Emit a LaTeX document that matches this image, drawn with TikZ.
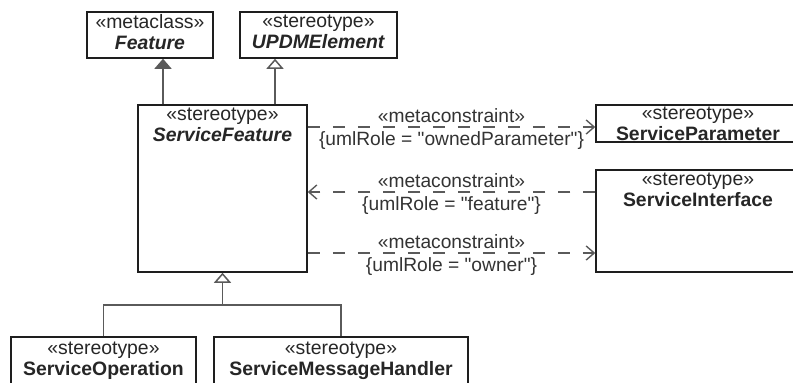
\documentclass[tikz,border=0pt]{standalone}
\usepackage{fontspec}
\setmainfont{Liberation Sans}
\newfontfamily\plainsans{Liberation Sans}
\usetikzlibrary{arrows.meta,positioning}
\definecolor{boxline}{HTML}{1E1E1E}
\definecolor{connline}{HTML}{5A5A5A}

\tikzset{
  box/.style={draw=boxline, line width=0.75pt, rectangle, inner sep=0pt},
  hdr/.style={align=center, inner sep=1pt, font=\fontsize{9.7}{10.5}\selectfont, text=black!85},
  lbl/.style={font=\plainsans\fontsize{9.6}{10}\selectfont, text=black!80, inner sep=2pt},
  dep/.style={connline, line width=0.7pt, dash pattern=on 6pt off 6.5pt,
    -{Straight Barb[length=4pt,width=7pt]}},
  ext/.style={connline, line width=0.75pt, -{Triangle[length=5pt,width=8.5pt,fill=connline]}},
  gen/.style={connline, line width=0.75pt, -{Triangle[open,length=5pt,width=8.5pt,fill=white]}},
}

\begin{document}
\begin{tikzpicture}[x=0.5pt,y=-0.5pt]
    \useasboundingbox (0,0) rectangle (793,382);
    \clip (0,0) rectangle (793,382);

    % metaclass and parent stereotype
    \node[box, minimum width=63pt, minimum height=23pt] (feat) at (150,35) {};
    \node[hdr, below=0.5pt of feat.north] (feat-h) {«metaclass»\\\textbf{\textit{Feature}}};
    \node[box, minimum width=78.5pt, minimum height=23pt] (updm) at (318.5,35) {};
    \node[hdr, below=0.5pt of updm.north] (updm-h) {«stereotype»\\\textbf{\textit{UPDMElement}}};

    % central stereotype
    \node[box, minimum width=84.5pt, minimum height=83.5pt] (sfeat) at (222.5,188.5) {};
    \node[hdr, below=0.5pt of sfeat.north] (sfeat-h) {«stereotype»\\\textbf{\textit{ServiceFeature}}};

    % right hand stereotypes (cut at the edge)
    \node[box, minimum width=102pt, minimum height=18.5pt] (spar) at (698,123.5) {};
    \node[hdr, below=0pt of spar.north] (spar-h) {«stereotype»\\\textbf{ServiceParameter}};
    \node[box, minimum width=102pt, minimum height=51pt] (sint) at (698,221) {};
    \node[hdr, below=0.5pt of sint.north] (sint-h) {«stereotype»\\\textbf{ServiceInterface}};

    % specialisations (cut at the bottom)
    \node[box, minimum width=92.5pt, minimum height=31.5pt] (sop) at (103.5,368.5) {};
    \node[hdr, below=1.5pt of sop.north] (sop-h) {«stereotype»\\\textbf{ServiceOperation}};
    \node[box, minimum width=127pt, minimum height=31.5pt] (smh) at (341,368.5) {};
    \node[hdr, below=1.5pt of smh.north] (smh-h) {«stereotype»\\\textbf{ServiceMessageHandler}};

    % extension and generalisation upwards
    \coordinate (ft) at ([xshift=-29.75pt]sfeat.north);
    \coordinate (ut) at ([xshift=26.25pt]sfeat.north);
    \draw[ext] (ft) -- (ft |- feat.south);
    \draw[gen] (ut) -- (ut |- updm.south);

    % metaconstraints
    \coordinate (r1) at (450,127);
    \coordinate (r2) at (450,192);
    \coordinate (r3) at (450,253);
    \draw[dep] (sfeat.east |- r1) -- node[lbl,above] {«metaconstraint»}
        node[lbl,below] {\{umlRole = "ownedParameter"\}} (spar.west |- r1);
    \draw[dep] (sint.west |- r2) -- node[lbl,above] {«metaconstraint»}
        node[lbl,below] {\{umlRole = "feature"\}} (sfeat.east |- r2);
    \draw[dep] (sfeat.east |- r3) -- node[lbl,above] {«metaconstraint»}
        node[lbl,below] {\{umlRole = "owner"\}} (sint.west |- r3);

    % generalisation tree
    \coordinate (jn) at (sfeat.south |- 0,305);
    \draw[gen] (sop.north) |- (jn) -- (sfeat.south);
    \draw[connline, line width=0.75pt] (smh.north) |- (jn);

\end{tikzpicture}
\end{document}
